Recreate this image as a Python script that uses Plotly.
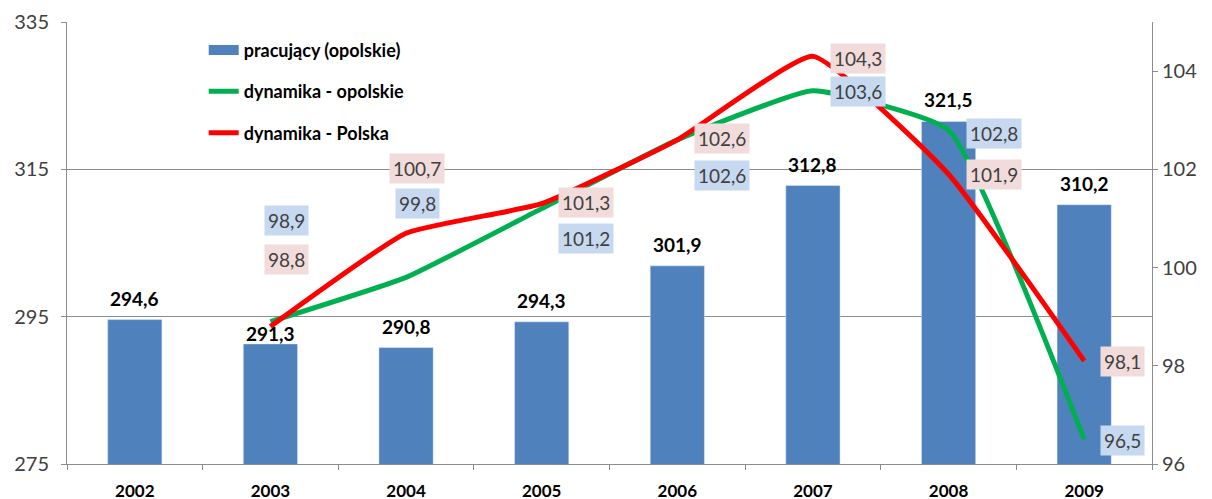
import plotly.graph_objects as go

years = [2002, 2003, 2004, 2005, 2006, 2007, 2008, 2009]
pracujacy = [294.6, 291.3, 290.8, 294.3, 301.9, 312.8, 321.5, 310.2]
line_years = [2003, 2004, 2005, 2006, 2007, 2008, 2009]
dyn_opolskie = [98.9, 99.8, 101.2, 102.6, 103.6, 102.8, 96.5]
dyn_polska = [98.8, 100.7, 101.3, 102.6, 104.3, 101.9, 98.1]

def fmt(v):
    return f"{v:.1f}".replace(".", ",")

FONT = "Lato"
BLUE = "#4F81BD"
GREEN = "#00B050"
RED = "#FF0000"

fig = go.Figure()
# legend-only entry for the bars (wide swatch)
fig.add_trace(go.Scatter(x=[None], y=[None], mode="lines", yaxis="y",
                         line=dict(color=BLUE, width=10),
                         name="pracujący (opolskie)", legendgroup="a"))
fig.add_trace(go.Bar(x=years, y=pracujacy, marker_color=BLUE, width=0.4,
                     showlegend=False, yaxis="y"))
fig.add_trace(go.Scatter(x=line_years, y=dyn_opolskie, mode="lines", yaxis="y2",
                         line=dict(color=GREEN, width=5, shape="spline", smoothing=0.4),
                         name="dynamika - opolskie", legendgroup="b"))
fig.add_trace(go.Scatter(x=line_years, y=dyn_polska, mode="lines", yaxis="y2",
                         line=dict(color=RED, width=5, shape="spline", smoothing=0.4),
                         name="dynamika - Polska", legendgroup="c"))

annotations = []
# bar value labels
bar_yshift = [8, -3, 8, 8, 8, 8, 8, 8]
for yr, v, ys in zip(years, pracujacy, bar_yshift):
    annotations.append(dict(x=yr, y=v, xref="x", yref="y", text=fmt(v), showarrow=False,
                            yanchor="bottom", yshift=ys,
                            font=dict(family=FONT, size=19, color="black", weight="bold")))
# line value labels (offsets in pixels)
g_off = [(16, 101), (11, 74), (44, -30), (45, -36), (45, -1), (45, -3), (38, -1)]
r_off = [(16, 67), (11, 65), (44, 1), (45, 1), (45, -2), (45, 0), (38, -1)]
for yr, v, (dx, dy) in zip(line_years, dyn_opolskie, g_off):
    annotations.append(dict(x=yr, y=v, xref="x", yref="y2", text=fmt(v), showarrow=False,
                            xshift=dx, yshift=dy, bgcolor="#C6D9F1", borderpad=3,
                            font=dict(family=FONT, size=19, color="#404040")))
for yr, v, (dx, dy) in zip(line_years, dyn_polska, r_off):
    annotations.append(dict(x=yr, y=v, xref="x", yref="y2", text=fmt(v), showarrow=False,
                            xshift=dx, yshift=dy, bgcolor="#F2DCDB", borderpad=3,
                            font=dict(family=FONT, size=19, color="#404040")))

fig.update_layout(
    width=1212, height=499,
    margin=dict(l=59, r=68, t=14, b=43, autoexpand=False),
    paper_bgcolor="white", plot_bgcolor="white",
    font=dict(family=FONT, color="#404040"),
    showlegend=True,
    legend=dict(x=0.126, y=0.978, xanchor="left", yanchor="top",
                traceorder="grouped", tracegroupgap=15, bgcolor="rgba(255,255,255,0)",
                font=dict(family=FONT, size=18, color="black", weight="bold"),
                itemwidth=30),
    xaxis=dict(range=[2001.5, 2009.5], tickvals=years, ticktext=[str(y) for y in years],
               showline=True, linecolor="#8C8C8C", linewidth=1, automargin=False,
               ticks="", zeroline=False, ticklabelstandoff=12,
               minor=dict(ticks="outside", tick0=2001.5, dtick=1, ticklen=5,
                          tickcolor="#8C8C8C", showgrid=False),
               tickfont=dict(family=FONT, size=17, color="black", weight="bold"),
               showgrid=False),
    yaxis=dict(range=[275, 335], tickvals=[275, 295, 315, 335], automargin=False,
               showline=True, linecolor="#8C8C8C", linewidth=1,
               ticks="outside", ticklen=5, tickcolor="#8C8C8C", ticklabelstandoff=8,
               showgrid=True, gridcolor="#8C8C8C", gridwidth=1, zeroline=False,
               tickfont=dict(family=FONT, size=20, color="#404040")),
    yaxis2=dict(range=[96, 105], tickvals=[96, 98, 100, 102, 104], automargin=False,
                overlaying="y", side="right", anchor="x",
                showline=True, linecolor="#8C8C8C", linewidth=1,
                ticks="outside", ticklen=5, tickcolor="#8C8C8C",
                showgrid=False, zeroline=False,
                tickfont=dict(family=FONT, size=20, color="#404040")),
    annotations=annotations,
)

fig.write_html("out.html")
